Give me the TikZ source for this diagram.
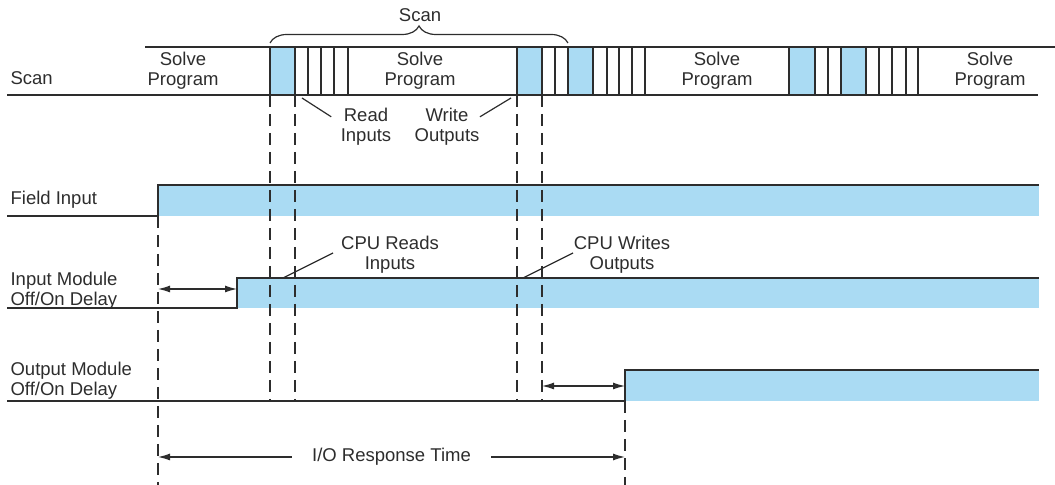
\documentclass[tikz,border=0pt]{standalone}
\usepackage{fontspec}
\setmainfont{Liberation Sans}
\usetikzlibrary{arrows.meta,decorations.pathreplacing}
\definecolor{sigblue}{RGB}{170,219,243}
\definecolor{ink}{RGB}{45,45,45}
\tikzset{
  lbl/.style={inner sep=0pt, align=center, font=\fontsize{9.25}{10}\selectfont},
  rowlbl/.style={lbl, anchor=west, align=left},
  guide/.style={dash pattern=on 6pt off 3.5pt},
  span/.style={{Latex[length=6pt,width=3.5pt]}-{Latex[length=6pt,width=3.5pt]}},
}
\begin{document}
\begin{tikzpicture}[x=0.5pt, y=-0.5pt, line width=0.6pt, color=ink]
  \useasboundingbox (0,0) rectangle (1055,485);
  % timing points
  \coordinate (rdA) at (270,95);
  \coordinate (rdB) at (295,95);
  \coordinate (wrA) at (517,95);
  \coordinate (wrB) at (542,95);
  \coordinate (fiOn) at (158,185);
  \coordinate (imOn) at (237,278);
  \coordinate (omOn) at (625,370);
  % scan bar
  \foreach \a/\b in {270/295, 517/542, 568/593, 789/815, 841/866}
    \fill[sigblue] (\a,47) rectangle (\b,95);
  \draw (145,47) -- (1055,47);
  \draw (7,95) -- (1038,95);
  \foreach \x in {270,295,308,321,334,348,517,542,555,568,593,607,619,632,645,
                  789,815,828,841,866,879,892,906,918}
    \draw (\x,47) -- (\x,95);
  \node[rowlbl] (scan) at (10,78) {Scan};
  \node[lbl] (sp1) at (183,71) {Solve\\Program};
  \node[lbl] (sp2) at (420,71) {Solve\\Program};
  \node[lbl] (sp3) at (717,71) {Solve\\Program};
  \node[lbl] (sp4) at (990,71) {Solve\\Program};
  % one scan
  \draw[decorate, decoration={brace, amplitude=8.5pt}] (270,43) -- (568,43);
  \node[lbl] (scanTop) at (420,15) {Scan};
  \node[lbl] (rdIn) at (366,127) {Read\\Inputs};
  \node[lbl] (wrOut) at (447,127) {Write\\Outputs};
  \draw (rdIn.north west) ++(-9,9) -- (302,98);
  \draw (wrOut.north east) ++(0,9) -- (511,98);
  % field input
  \fill[sigblue] (fiOn) rectangle (1039,216);
  \draw (7,216) -- (158,216) -- (fiOn) -- (1039,185);
  \node[rowlbl] (fi) at (10,200) {Field Input};
  % input module
  \fill[sigblue] (imOn) rectangle (1039,308);
  \draw (7,308) -- (237,308) -- (imOn) -- (1039,278);
  \node[rowlbl] (im) at (10,291) {Input Module\\Off/On Delay};
  \node[lbl] (cpuRd) at (390,255) {CPU Reads\\Inputs};
  \node[lbl] (cpuWr) at (622,255) {CPU Writes\\Outputs};
  \draw (283,278) -- (333,253);
  \draw (523,278) -- (573,253);
  % output module
  \fill[sigblue] (omOn) rectangle (1039,401);
  \draw (7,401) -- (625,401) -- (omOn) -- (1039,370);
  \node[rowlbl] (om) at (10,381) {Output Module\\Off/On Delay};
  % guides
  \draw[guide] (158,216) -- (158,485);
  \draw[guide] (625,401) -- (625,485);
  \foreach \c in {rdA, rdB, wrA, wrB}
    \draw[guide] (\c) -- (\c |- 0,401);
  % delays
  \draw[span] (158,289) -- (237,289);
  \draw[span] (542,386) -- (625,386);
  \draw[span] (158,457) -- (625,457)
    node[lbl, midway, fill=white, inner xsep=10pt] (resp) {I/O Response Time};
\end{tikzpicture}
\end{document}
